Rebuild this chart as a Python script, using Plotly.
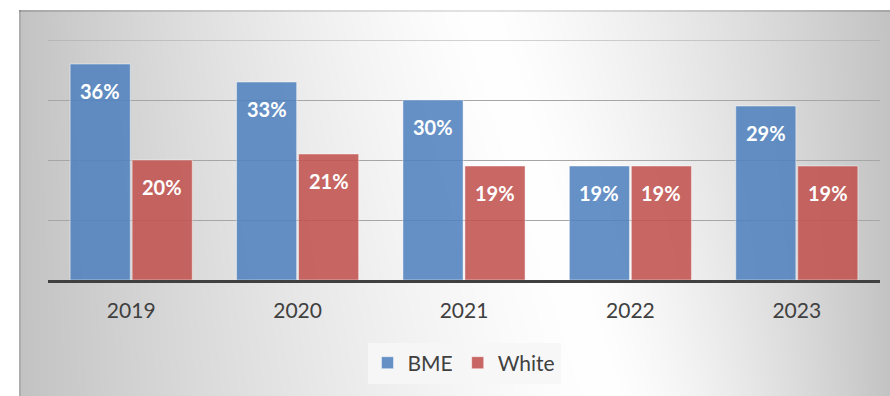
import base64
import struct
import zlib

import numpy as np
import plotly.graph_objects as go

# Share of staff by ethnicity, per year (%)
years = [2019, 2020, 2021, 2022, 2023]
bme = [36, 33, 30, 19, 29]
white = [20, 21, 19, 19, 19]
series_names = ["BME", "White"]
y_max = 40

# Page / plot geometry (px)
W, H = 890, 396
M = dict(l=48, r=10, t=40, b=116)
PLOT_W = W - M["l"] - M["r"]
PLOT_H = H - M["t"] - M["b"]
PANEL_X0, PANEL_Y0 = 19, 10          # chart panel top-left on the page
BARGAP, BARGROUPGAP = 0.255, 0.03

BLUE = "rgba(79,129,189,0.87)"
RED = "rgba(192,80,77,0.87)"
TEXT = "#404040"
GRID = "#a6a6a6"
FONT = "Lato"


def png_data_uri(gray):
    """Encode a 2-D uint8 array as a grayscale PNG data URI."""
    h, w = gray.shape
    raw = b"".join(b"\x00" + row.tobytes() for row in gray)

    def chunk(tag, data):
        c = struct.pack(">I", len(data)) + tag + data
        return c + struct.pack(">I", zlib.crc32(tag + data) & 0xFFFFFFFF)

    png = (b"\x89PNG\r\n\x1a\n"
           + chunk(b"IHDR", struct.pack(">IIBBBBB", w, h, 8, 0, 0, 0, 0))
           + chunk(b"IDAT", zlib.compress(raw, 9))
           + chunk(b"IEND", b""))
    return "data:image/png;base64," + base64.b64encode(png).decode()


def panel_gradient():
    """Soft gray-white-gray fill for the chart panel, light along a tilted band."""
    w, h = W - PANEL_X0, H - PANEL_Y0
    yy, xx = np.mgrid[0:h, 0:w]
    px = xx.astype(float) + PANEL_X0
    py = yy.astype(float) + PANEL_Y0
    cx = 480.0 + 130.0 * (py - PANEL_Y0) / h
    t = np.where(px < cx, (cx - px) / (cx - PANEL_X0), (px - cx) / (W - cx))
    g = 255.0 - 60.0 * np.clip(t, 0, 1) ** 1.35
    g[0:2, :] -= 28
    g[:, 0:2] -= 22
    return np.ascontiguousarray(np.clip(g, 0, 255).astype(np.uint8))


fig = go.Figure()
for name, vals, color in zip(series_names, [bme, white], [BLUE, RED]):
    fig.add_trace(go.Bar(
        name=name, x=years, y=vals,
        marker=dict(color=color, line=dict(color="rgba(255,255,255,0.45)", width=1)),
        hoverinfo="skip",
    ))

# Value labels, white, just inside the top of each bar
bar_px = PLOT_W / len(years) * (1 - BARGAP) / 2
for i, vals in enumerate([bme, white]):
    shift = (i - 0.5) * bar_px
    for yr, v in zip(years, vals):
        fig.add_annotation(
            x=yr, y=v, xref="x", yref="y", text=f"<b>{v}%</b>", showarrow=False,
            xshift=shift, yshift=-27,
            font=dict(family=FONT, size=20, color="white"),
        )

# Gridline at the top of the value range (the axis omits the one on its edge)
fig.add_shape(type="line", xref="paper", yref="y", x0=0, x1=1, y0=y_max, y1=y_max,
              line=dict(color=GRID, width=1), layer="below")

fig.add_layout_image(
    source=png_data_uri(panel_gradient()),
    xref="paper", yref="paper",
    x=(PANEL_X0 - M["l"]) / PLOT_W,
    y=(H - M["b"] - PANEL_Y0) / PLOT_H,
    sizex=(W - PANEL_X0) / PLOT_W,
    sizey=(H - PANEL_Y0) / PLOT_H,
    xanchor="left", yanchor="top", sizing="stretch", layer="below",
)

fig.update_layout(
    width=W, height=H, margin=M,
    paper_bgcolor="white", plot_bgcolor="rgba(0,0,0,0)",
    barmode="group", bargap=BARGAP, bargroupgap=BARGROUPGAP,
    font=dict(family=FONT, color=TEXT),
    showlegend=True,
    legend=dict(
        orientation="h", x=0.5, xanchor="center", y=-0.346, yanchor="middle",
        bgcolor="rgba(246,246,246,0.9)", font=dict(size=21, color=TEXT),
    ),
    xaxis=dict(
        type="linear", range=[years[0] - 0.5, years[-1] + 0.5],
        tickmode="array", tickvals=years, ticktext=[str(y) for y in years],
        showgrid=False, showline=True, linecolor=TEXT, linewidth=3, zeroline=False,
        ticks="outside", ticklen=10, tickcolor="rgba(0,0,0,0)",
        tickfont=dict(size=21, color=TEXT, family=FONT),
    ),
    yaxis=dict(
        range=[0, y_max], dtick=10, showgrid=True, gridcolor=GRID, gridwidth=1,
        showticklabels=False, zeroline=False,
    ),
)

fig.write_html("out.html", config={"displayModeBar": False})
